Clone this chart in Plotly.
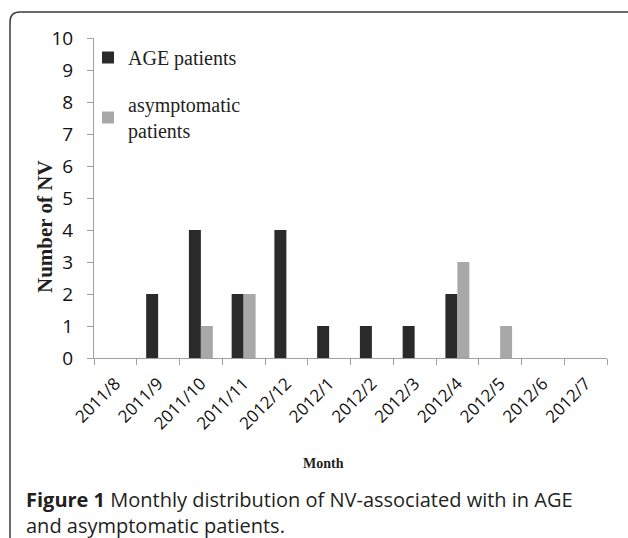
import plotly.graph_objects as go

months = ["2011/8", "2011/9", "2011/10", "2011/11", "2012/12", "2012/1",
          "2012/2", "2012/3", "2012/4", "2012/5", "2012/6", "2012/7"]
age_patients = [0, 2, 4, 2, 4, 1, 1, 1, 2, 0, 0, 0]
asymptomatic_patients = [0, 0, 1, 2, 0, 0, 0, 0, 3, 1, 0, 0]
y_ticks = list(range(0, 11))

W, H = 628, 538
L, R, T, B = 94, 607, 38, 358  # plot area in px


def px(x):
    return (x - L) / (R - L)


def py(y):
    return (B - y) / (B - T)


fig = go.Figure()
fig.add_trace(go.Bar(x=months, y=age_patients, name="AGE patients",
                     marker=dict(color="#2a2a2a", line=dict(width=0)),
                     legendgroup="a"))
fig.add_trace(go.Bar(x=months, y=asymptomatic_patients, name="asymptomatic<br>patients",
                     marker=dict(color="#a8a8a8", line=dict(width=0)),
                     legendgroup="b"))

# frame with rounded top corners
r = 10
x0, y0, x1, y1 = 10, 12, 636, 600
path = (f"M {px(x0)},{py(y1)} L {px(x0)},{py(y0 + r)} "
        f"Q {px(x0)},{py(y0)} {px(x0 + r)},{py(y0)} "
        f"L {px(x1 - r)},{py(y0)} Q {px(x1)},{py(y0)} {px(x1)},{py(y0 + r)} "
        f"L {px(x1)},{py(y1)}")

fig.update_layout(
    width=W, height=H,
    margin=dict(l=L, r=W - R, t=T, b=H - B),
    paper_bgcolor="white", plot_bgcolor="white",
    barmode="group", bargap=0.44, bargroupgap=0,
    showlegend=True,
    legend=dict(x=px(88), y=py(38), xanchor="left", yanchor="top",
                font=dict(family="Liberation Serif", size=20, color="#231f20"),
                itemwidth=30, tracegroupgap=18, bgcolor="rgba(0,0,0,0)"),
    xaxis=dict(type="category", tickson="boundaries", showline=True,
               linecolor="#a0a0a0", linewidth=1, ticks="outside", ticklen=6,
               tickcolor="#a0a0a0", tickangle=-45, showgrid=False,
               ticklabelstandoff=8,
               tickfont=dict(family="Open Sans", size=17, color="#111111")),
    yaxis=dict(range=[0, 10], tickvals=y_ticks, showline=True,
               linecolor="#a0a0a0", linewidth=1, ticks="outside", ticklen=6,
               tickcolor="#a0a0a0", showgrid=False, zeroline=False,
               ticklabelstandoff=10,
               tickfont=dict(family="Open Sans", size=19, color="#111111")),
    shapes=[dict(type="path", xref="paper", yref="paper", path=path,
                 line=dict(color="#3a3a3a", width=1.5), layer="above")],
    annotations=[
        dict(text="<b>Number of NV</b>", xref="paper", yref="paper",
             x=px(45), y=py(227), xanchor="center", yanchor="middle",
             textangle=-90, showarrow=False,
             font=dict(family="Liberation Serif", size=21, color="#231f20")),
        dict(text="<b>Month</b>", xref="paper", yref="paper",
             x=px(323), y=py(463), xanchor="center", yanchor="middle",
             showarrow=False,
             font=dict(family="Liberation Serif", size=14, color="#231f20")),
        dict(text="<b>Figure 1</b> Monthly distribution of NV-associated with in AGE<br>and asymptomatic patients.",
             xref="paper", yref="paper", x=px(24), y=py(484), xanchor="left",
             yanchor="top", align="left", showarrow=False,
             font=dict(family="Open Sans", size=20, color="#231f20")),
    ],
)

fig.write_html("out.html", config={"displayModeBar": False},
               post_script="document.body.style.margin='0';document.body.style.padding='0';")
